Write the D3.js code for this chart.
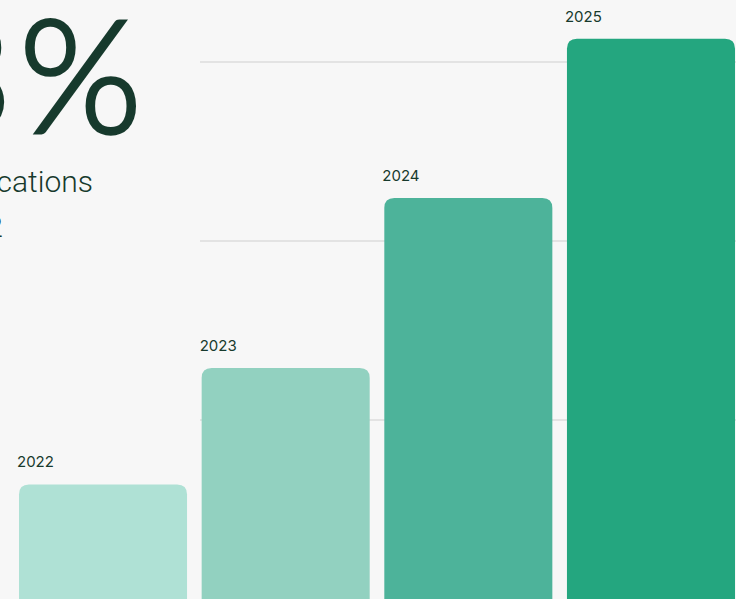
<!DOCTYPE html>
<html>
<head>
<meta charset="utf-8">
<script src="https://cdn.jsdelivr.net/npm/d3@7/dist/d3.min.js"></script>
<style>
  html, body { margin: 0; padding: 0; background: #f7f7f7; }
  svg { display: block; }
</style>
</head>
<body>
<svg id="chart" width="736" height="599"></svg>
<script>
// Yearly values (same units as the gridlines)
const years = ["2022", "2023", "2024", "2025"];
const values = [6.4, 12.9, 22.4, 31.3];
const barColors = ["#afe1d5", "#92d1c0", "#4db39a", "#24a67f"];
const gridTicks = [10, 20, 30];

// Headline copy
const headlineFigure = "3";
const headlineUnit = "%";
const captionLines = ["applications", "2022"];

const W = 736, H = 599;
const ink = "#173a2d";

const svg = d3.select("#chart");
svg.append("rect").attr("width", W).attr("height", H).attr("fill", "#f7f7f7");

const x = d3.scaleBand()
  .domain(years)
  .range([19, 735])
  .paddingInner(0.08)
  .paddingOuter(0);

const y = d3.scaleLinear()
  .domain([0, 30])
  .range([599, 62]);

// Horizontal gridlines
svg.append("g")
  .selectAll("line")
  .data(gridTicks)
  .join("line")
  .attr("x1", 200)
  .attr("x2", W)
  .attr("y1", d => y(d))
  .attr("y2", d => y(d))
  .attr("stroke", "#dcdcdc")
  .attr("stroke-width", 1.5);

// Bars with rounded tops, running past the bottom edge
const r = 10;
svg.append("g")
  .selectAll("path")
  .data(years)
  .join("path")
  .attr("fill", (d, i) => barColors[i])
  .attr("d", (d, i) => {
    const x0 = x(d), w = x.bandwidth(), t = y(values[i]), b = H + 20;
    return `M${x0},${b} V${t + r} Q${x0},${t} ${x0 + r},${t} H${x0 + w - r} Q${x0 + w},${t} ${x0 + w},${t + r} V${b} Z`;
  });

// Year labels above each bar
svg.append("g")
  .selectAll("text")
  .data(years)
  .join("text")
  .attr("x", d => x(d) - 2)
  .attr("y", (d, i) => y(values[i]) - 17)
  .attr("fill", ink)
  .attr("font-family", "Inter, 'Noto Sans', sans-serif")
  .attr("font-size", 15)
  .text(d => d);

// Headline figure and caption
const head = svg.append("text")
  .attr("y", 133)
  .attr("fill", ink)
  .attr("stroke", ink)
  .attr("stroke-width", 3.5)
  .attr("font-family", "Lato, sans-serif")
  .attr("font-weight", 300)
  .attr("font-size", 158);
head.append("tspan").attr("x", 13).attr("text-anchor", "end").text(headlineFigure);
head.append("tspan").attr("x", 19).attr("text-anchor", "start").text(headlineUnit);

svg.append("g")
  .selectAll("text")
  .data(captionLines)
  .join("text")
  .attr("x", (d, i) => i === 0 ? 93 : 3)
  .attr("y", (d, i) => 192 + i * 45)
  .attr("text-anchor", "end")
  .attr("fill", ink)
  .attr("font-family", "Roboto, sans-serif")
  .attr("font-weight", 300)
  .attr("font-size", 30)
  .text(d => d);
</script>
</body>
</html>
